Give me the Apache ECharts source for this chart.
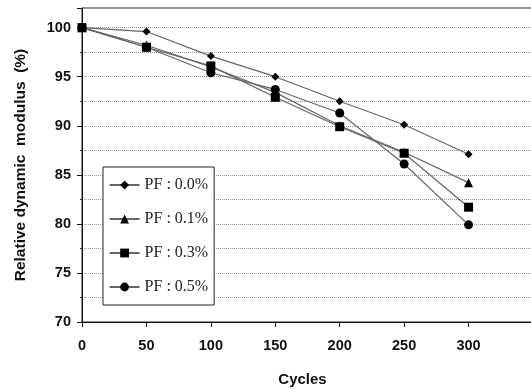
<!DOCTYPE html>
<html>
<head>
<meta charset="utf-8">
<script src="https://cdn.jsdelivr.net/npm/echarts@6/dist/echarts.min.js"></script>
<style>
  html, body { margin: 0; padding: 0; background: #fff; }
  #chart { width: 531px; height: 389px; }
</style>
</head>
<body>
<div id="chart"></div>
<script>
// 数据
var cycles = [0, 50, 100, 150, 200, 250, 300];
var seriesNames = ['PF : 0.0%', 'PF : 0.1%', 'PF : 0.3%', 'PF : 0.5%'];
var pf00 = [100, 99.6, 97.1, 95.0, 92.5, 90.1, 87.1];
var pf01 = [100, 98.2, 96.0, 93.4, 90.0, 87.3, 84.2];
var pf03 = [100, 98.0, 96.1, 92.9, 89.9, 87.2, 81.7];
var pf05 = [100, 98.0, 95.4, 93.7, 91.3, 86.1, 79.9];
var symbols = ['diamond', 'triangle', 'rect', 'circle'];
var symbolSizes = [8, 9, 9, 9];

var chart = echarts.init(document.getElementById('chart'));
var allData = [pf00, pf01, pf03, pf05];

var series = allData.map(function (vals, i) {
    return {
        name: seriesNames[i],
        type: 'line',
        data: vals.map(function (v, j) { return [cycles[j], v]; }),
        symbol: symbols[i],
        symbolSize: symbolSizes[i],
        showAllSymbol: true,
        lineStyle: { color: '#666', width: 1.2 },
        itemStyle: { color: '#000' },
        z: 3 + i
    };
});

var font = '"Liberation Sans", Arial, sans-serif';

var option = {
    animation: false,
    grid: {
        left: 82, top: 8, right: -2, bottom: 67,
        outerBoundsMode: 'none',
        containLabel: false,
        show: true, borderColor: '#222', borderWidth: 1
    },
    legend: {
        orient: 'vertical',
        left: 103, top: 167,
        itemWidth: 30, itemHeight: 11,
        itemGap: 18,
        padding: [10, 6, 10, 6],
        borderColor: '#222', borderWidth: 1,
        backgroundColor: '#fff',
        lineStyle: { color: '#000', width: 1.2 },
        textStyle: { fontFamily: '"Liberation Serif", "DejaVu Serif", serif', fontSize: 16, color: '#222' },
        data: seriesNames
    },
    xAxis: {
        type: 'value',
        min: 0, max: 350, interval: 50,
        name: 'Cycles',
        nameLocation: 'middle',
        nameGap: 50,
        nameTextStyle: { fontFamily: font, fontWeight: 'bold', fontSize: 15, color: '#111', padding: [0, 10, 0, 0] },
        axisLine: { lineStyle: { color: '#111', width: 1 } },
        axisTick: { show: true, inside: false, length: 5, lineStyle: { color: '#111' } },
        axisLabel: {
            fontFamily: font, fontWeight: 'bold', fontSize: 14.5, color: '#111', margin: 16,
            formatter: function (v) { return v > 300 ? '' : v; }
        },
        splitLine: { show: false }
    },
    yAxis: {
        type: 'value',
        min: 70, max: 102, interval: 5,
        name: 'Relative dynamic  modulus  (%)',
        nameLocation: 'middle',
        nameGap: 53,
        nameTextStyle: { fontFamily: font, fontWeight: 'bold', fontSize: 15.5, color: '#111' },
        axisLine: { show: true, lineStyle: { color: '#111', width: 1 } },
        axisTick: { show: true, length: 5, lineStyle: { color: '#111' } },
        axisLabel: {
            fontFamily: font, fontWeight: 'bold', fontSize: 14.5, color: '#111', margin: 11,
            formatter: function (v) { return v % 5 === 0 ? v : ''; }
        },
        minorTick: { show: true, splitNumber: 2, length: 2, lineStyle: { color: '#333' } },
        minorSplitLine: { show: true, lineStyle: { color: '#999', type: 'dotted', width: 1 } },
        splitLine: { show: true, lineStyle: { color: '#999', type: 'dotted', width: 1 } }
    },
    series: series
};
chart.setOption(option);
</script>
</body>
</html>
